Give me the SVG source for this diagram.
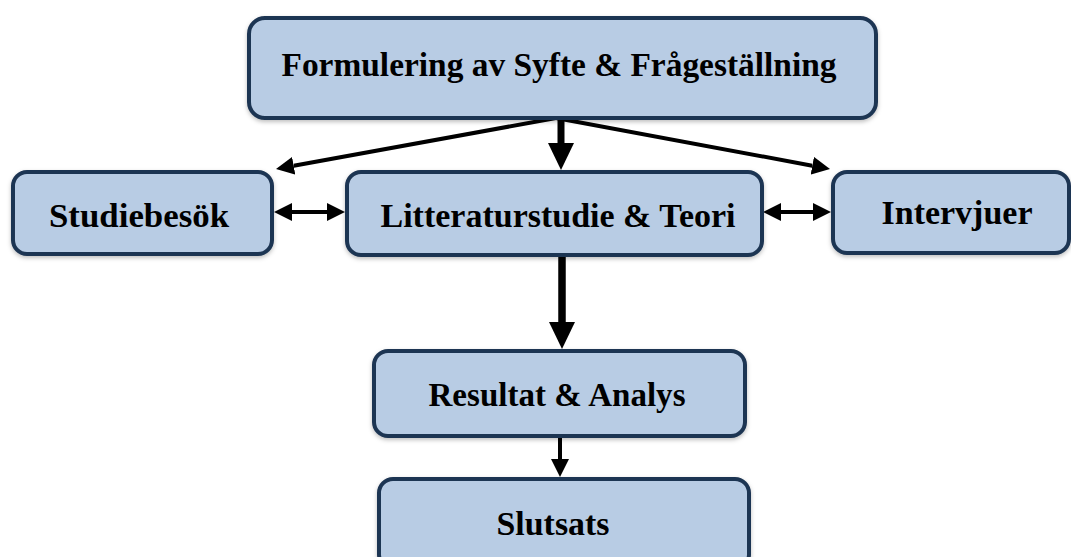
<svg xmlns="http://www.w3.org/2000/svg" width="1071" height="557" viewBox="0 0 1071 557">
<defs>
<style>
.box{fill:#b8cce4;stroke:#1f3552;stroke-width:4;filter:url(#sh)}
.lbl{font-family:"Liberation Serif","DejaVu Serif",serif;font-weight:bold;fill:#000;text-anchor:middle;font-size:33px}
.c{stroke:#000;fill:none}
</style>
<filter id="sh" x="-5%" y="-10%" width="110%" height="125%"><feDropShadow dx="0" dy="2" stdDeviation="2" flood-color="#000" flood-opacity="0.25"/></filter>
<marker id="ah" markerWidth="18" markerHeight="18" refX="0" refY="9" orient="auto" markerUnits="userSpaceOnUse"><path d="M0,0 L18,9 L0,18 Z" fill="#000"/></marker>
<marker id="ahs" markerWidth="18" markerHeight="18" refX="18" refY="9" orient="auto" markerUnits="userSpaceOnUse"><path d="M18,0 L0,9 L18,18 Z" fill="#000"/></marker>
<marker id="ahb" markerWidth="27" markerHeight="26" refX="0" refY="13" orient="auto" markerUnits="userSpaceOnUse"><path d="M0,0 L27,13 L0,26 Z" fill="#000"/></marker>
</defs>
<rect width="1071" height="557" fill="#fff"/>
<g id="connectors">
<line class="c" x1="556" y1="118" x2="293.7" y2="165.8" stroke-width="4" marker-end="url(#ah)"/>
<line class="c" x1="556" y1="118" x2="812.3" y2="165.7" stroke-width="4" marker-end="url(#ah)"/>
<line class="c" x1="561" y1="119" x2="561" y2="143" stroke-width="7" marker-end="url(#ahb)"/>
<line class="c" x1="292" y1="212" x2="327" y2="212" stroke-width="4" marker-start="url(#ahs)" marker-end="url(#ah)"/>
<line class="c" x1="781" y1="212" x2="813" y2="212" stroke-width="4" marker-start="url(#ahs)" marker-end="url(#ah)"/>
<line class="c" x1="562" y1="257" x2="562" y2="322" stroke-width="7.5" marker-end="url(#ahb)"/>
<line class="c" x1="560" y1="437" x2="560" y2="459" stroke-width="4" marker-end="url(#ah)"/>
</g>
<g id="n1"><rect class="box" x="249" y="18" width="627" height="100" rx="16"/><text class="lbl" x="559" y="76" textLength="555" lengthAdjust="spacingAndGlyphs">Formulering av Syfte &amp; Frågeställning</text></g>
<g id="n2"><rect class="box" x="13" y="172" width="259" height="82" rx="14"/><text class="lbl" x="139" y="227" textLength="180" lengthAdjust="spacingAndGlyphs">Studiebesök</text></g>
<g id="n3"><rect class="box" x="347" y="172" width="415" height="83" rx="14"/><text class="lbl" x="558" y="227" textLength="355" lengthAdjust="spacingAndGlyphs">Litteraturstudie &amp; Teori</text></g>
<g id="n4"><rect class="box" x="833" y="172" width="236" height="81" rx="14"/><text class="lbl" x="957" y="224" textLength="151" lengthAdjust="spacingAndGlyphs">Intervjuer</text></g>
<g id="n5"><rect class="box" x="374" y="351" width="371" height="85" rx="14"/><text class="lbl" x="557" y="406" textLength="257" lengthAdjust="spacingAndGlyphs">Resultat &amp; Analys</text></g>
<g id="n6"><rect class="box" x="379" y="479" width="370" height="90" rx="14"/><text class="lbl" x="553" y="535" textLength="113" lengthAdjust="spacingAndGlyphs">Slutsats</text></g>
</svg>
